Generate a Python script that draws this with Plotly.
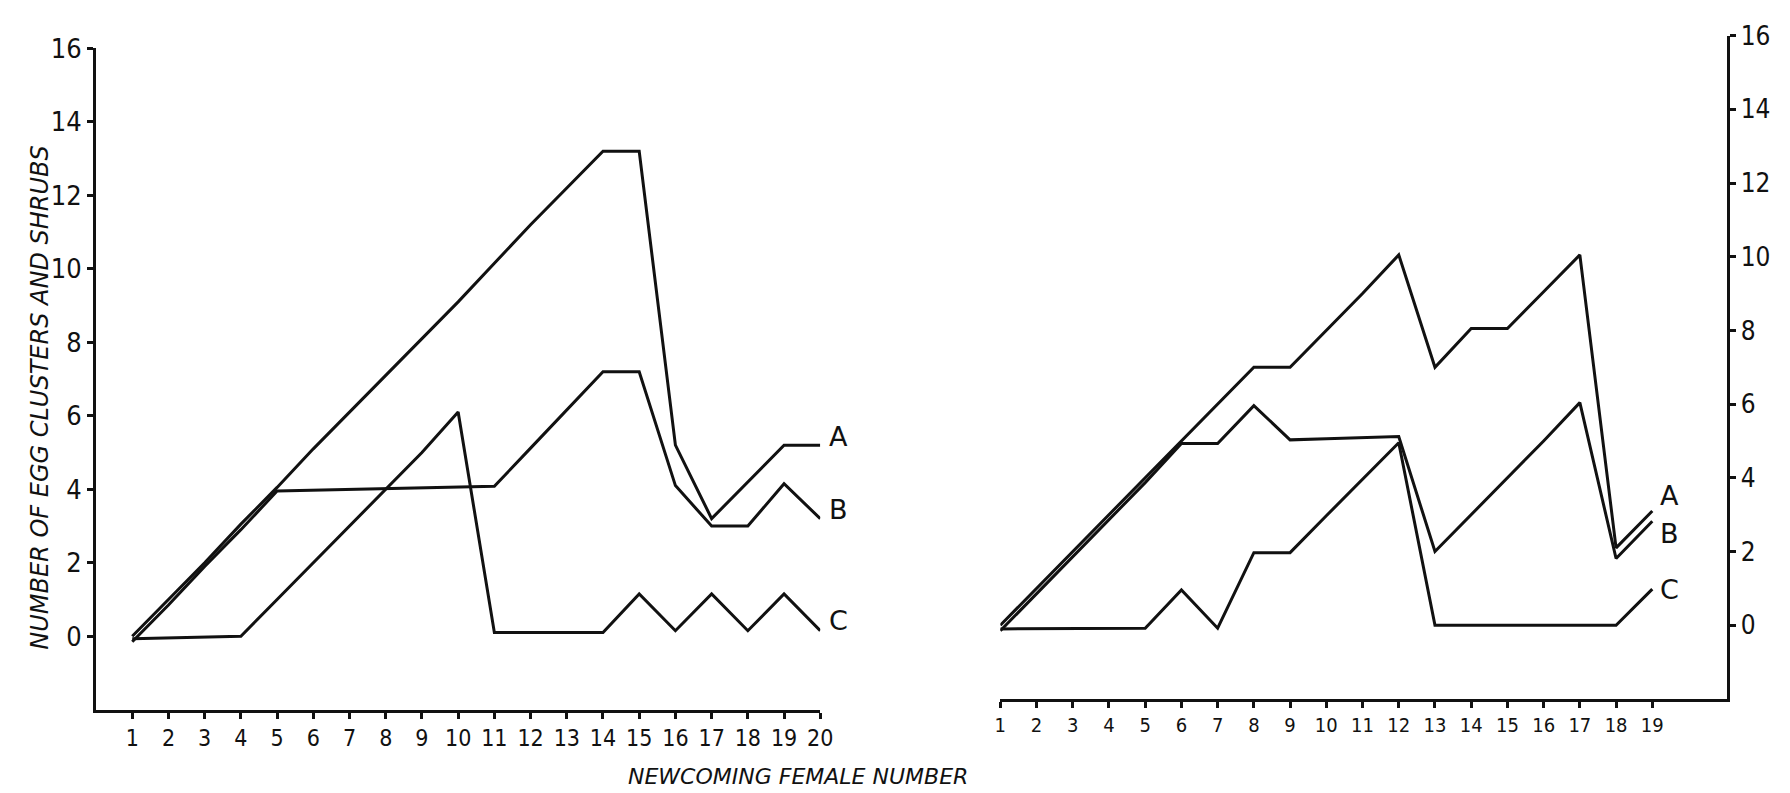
import plotly.graph_objects as go

# ---------------- data ----------------
left_x = list(range(1, 21))
left_A = [0, 1.0, 2.0, 3.05, 4.05, 5.1, 6.1, 7.1, 8.1, 9.1, 10.15, 11.2, 12.2, 13.2, 13.2, 5.2, 3.2, 4.2, 5.2, 5.2]
left_B = [-0.15, 0.85, 1.9, 2.9, 3.95, 3.97, 3.99, 4.0, 4.02, 4.05, 4.08, 5.12, 6.16, 7.2, 7.2, 4.1, 3.0, 3.0, 4.15, 3.2]
left_C = [-0.07, -0.05, -0.03, 0, 1.0, 2.0, 3.0, 4.0, 5.0, 6.1, 0.1, 0.1, 0.1, 0.1, 1.15, 0.15, 1.15, 0.15, 1.15, 0.15]

right_x = list(range(1, 20))
right_A = [0, 1.0, 2.0, 3.0, 4.0, 5.0, 6.0, 7.0, 7.0, 8.0, 9.0, 10.05, 7.0, 8.05, 8.05, 9.05, 10.05, 2.1, 3.1]
right_B = [-0.15, 0.85, 1.86, 2.87, 3.87, 4.93, 4.93, 5.96, 5.03, 5.06, 5.09, 5.12, 2.0, 3.0, 4.0, 5.0, 6.04, 1.81, 2.82]
right_C = [-0.1, -0.1, -0.09, -0.08, -0.08, 0.96, -0.08, 1.97, 1.97, 2.97, 3.96, 4.95, 0, 0, 0, 0, 0, 0, 0.98]

series_names = ["A", "B", "C"]
left_tick_vals = list(range(1, 21))
right_tick_vals = list(range(1, 20))
y_tick_vals = [0, 2, 4, 6, 8, 10, 12, 14, 16]

x_title = "NEWCOMING FEMALE NUMBER"
y_title = "NUMBER OF EGG CLUSTERS AND SHRUBS"

# ---------------- style ----------------
INK = "#111111"
LW = 3
FONT = "Liberation Sans Narrow, DejaVu Sans Condensed, Liberation Sans, sans-serif"
W, H = 1790, 793

fig = go.Figure()

for name, ys in zip(series_names, [left_A, left_B, left_C]):
    fig.add_trace(go.Scatter(x=left_x, y=ys, mode="lines", name=name,
                             line=dict(color=INK, width=LW), xaxis="x", yaxis="y",
                             showlegend=False))
for name, ys in zip(series_names, [right_A, right_B, right_C]):
    fig.add_trace(go.Scatter(x=right_x, y=ys, mode="lines", name=name,
                             line=dict(color=INK, width=LW), xaxis="x2", yaxis="y2",
                             showlegend=False))

axis_common = dict(showgrid=False, zeroline=False, showline=True, linecolor=INK,
                   linewidth=3, ticks="outside", tickcolor=INK, tickwidth=2.5,
                   ticklen=6)

fig.update_layout(
    width=W, height=H, autosize=False,
    margin=dict(l=0, r=0, t=0, b=0),
    paper_bgcolor="white", plot_bgcolor="white",
    xaxis=dict(domain=[91 / W, 823 / W], range=[0, 20], anchor="y",
               tickvals=left_tick_vals, ticktext=[str(v) for v in left_tick_vals],
               tickfont=dict(family=FONT, size=23, color=INK), **axis_common),
    yaxis=dict(domain=[1 - 708 / H, 1 - 33 / H], range=[-2, 16], anchor="x",
               tickvals=y_tick_vals, ticktext=[str(v) for v in y_tick_vals],
               tickfont=dict(family=FONT, size=27, color=INK), **axis_common),
    xaxis2=dict(domain=[1005 / W, 1739 / W], range=[1, 21.05], anchor="y2",
                tickvals=right_tick_vals, ticktext=[str(v) for v in right_tick_vals],
                tickfont=dict(family=FONT, size=20, color=INK), **axis_common),
    yaxis2=dict(domain=[1 - 697 / H, 1 - 20 / H], range=[-2, 16], anchor="x2",
                side="right",
                tickvals=y_tick_vals, ticktext=[str(v) for v in y_tick_vals],
                tickfont=dict(family=FONT, size=26, color=INK), **axis_common),
)

# series labels at line ends
left_shifts = [9, 9, 10]
right_shifts = [15, -12, 0]
for name, ys, sh in zip(series_names, [left_A, left_B, left_C], left_shifts):
    fig.add_annotation(x=left_x[-1], y=ys[-1], xref="x", yref="y", text=name,
                       showarrow=False, xanchor="left", yanchor="middle",
                       xshift=7, yshift=sh,
                       font=dict(family="DejaVu Sans, sans-serif", size=27, color=INK))
for name, ys, sh in zip(series_names, [right_A, right_B, right_C], right_shifts):
    fig.add_annotation(x=right_x[-1], y=ys[-1], xref="x2", yref="y2", text=name,
                       showarrow=False, xanchor="left", yanchor="middle",
                       xshift=6, yshift=sh,
                       font=dict(family="DejaVu Sans, sans-serif", size=27, color=INK))

# axis titles
fig.add_annotation(x=801 / W, y=1 - 776 / H, xref="paper", yref="paper",
                   text="<i>" + x_title + "</i>", showarrow=False,
                   xanchor="center", yanchor="middle",
                   font=dict(family="DejaVu Sans, sans-serif", size=22, color=INK))
fig.add_annotation(x=35 / W, y=1 - 390 / H, xref="paper", yref="paper",
                   text="<i>" + y_title + "</i>", showarrow=False, textangle=-90,
                   xanchor="center", yanchor="middle",
                   font=dict(family="DejaVu Sans, sans-serif", size=24, color=INK))

fig.write_html("out.html")
